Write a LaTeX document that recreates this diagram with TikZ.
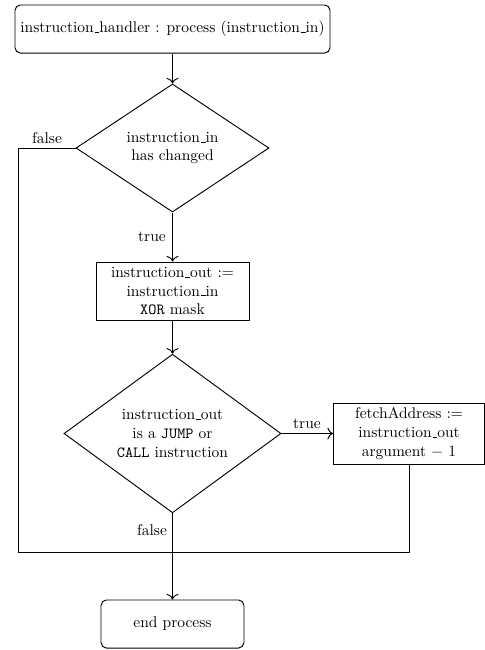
\documentclass[tikz,border=0pt]{standalone}
\usetikzlibrary{shapes.geometric,arrows.meta}
\newcommand\usc{\leavevmode\kern.06em\vbox{\hrule width.3em height 0.4pt}}
\begin{document}
\begin{tikzpicture}[x=0.645pt,y=-0.645pt,
  every path/.style={line width=0.6pt},
  rbox/.style={draw,rounded corners=3.5pt,align=center,inner sep=2pt},
  pbox/.style={draw,align=center,inner sep=2pt},
  dbox/.style={draw,diamond,align=center,inner sep=0pt},
  lbl/.style={inner sep=1pt},
  arr/.style={-{To[scale=1.25]}}]
\useasboundingbox (0,0) rectangle (485,650);
\node[rbox,minimum width=203.2pt,minimum height=31pt] (top) at (172.5,29) {instruction\usc handler : process (instruction\usc in)};
\node[dbox,minimum width=124.5pt,minimum height=82.6pt] (d1) at (172.5,148) {instruction\usc in\\has changed};
\node[pbox,minimum width=98.7pt,minimum height=37.4pt] (b2) at (172.5,291) {instruction\usc out :=\\instruction\usc in\\\texttt{XOR} mask};
\node[dbox,minimum width=140pt,minimum height=92.9pt] (d2) at (172.5,433.5) {instruction\usc out\\is a \texttt{JUMP} or\\\texttt{CALL} instruction};
\node[pbox,minimum width=97.4pt,minimum height=39.3pt] (fa) at (409,433.5) {fetchAddress :=\\instruction\usc out\\argument $-$ 1};
\node[rbox,minimum width=92.2pt,minimum height=31pt] (end) at (172.5,624) {end process};
\coordinate (lb) at (18,552);
\coordinate (rb) at (fa.south |- lb);
\draw[arr] (top) -- (d1);
\draw[arr] (d1) -- (b2);
\draw[arr] (b2) -- (d2);
\draw[arr] (d2) -- (fa);
\draw[arr] (d2) -- (end);
\draw (d1.west) -| (lb) -- (rb) -- (fa.south);
\node[lbl] (f1) at (47,138) {false};
\node[lbl] (t1) at (152,237) {true};
\node[lbl] (t2) at (307,424) {true};
\node[lbl] (f2) at (152,530) {false};
\end{tikzpicture}
\end{document}
